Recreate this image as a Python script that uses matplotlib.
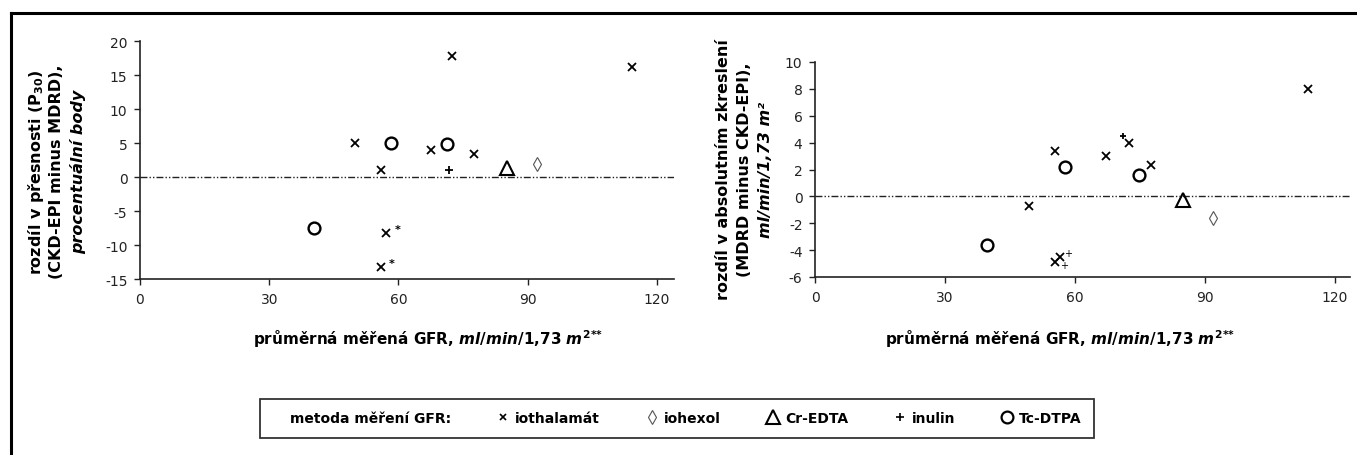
import matplotlib
matplotlib.use("Agg")
import matplotlib.pyplot as plt
from matplotlib.lines import Line2D

plt.rcParams['font.family'] = ['DejaVu Sans']
plt.rcParams['axes.unicode_minus'] = False
plt.rcParams['mathtext.fontset'] = 'custom'
plt.rcParams['mathtext.rm'] = 'DejaVu Sans:bold'
plt.rcParams['mathtext.it'] = 'DejaVu Sans:italic:bold'
plt.rcParams['mathtext.bf'] = 'DejaVu Sans:bold'

# --- data: left panel, difference in P30 (CKD-EPI minus MDRD) ---
iothal_x_left = [50.0, 56.0, 67.6, 72.5, 77.5, 114.3, 57.2, 55.9]
iothal_y_left = [5.0, 1.0, 3.9, 17.8, 3.4, 16.2, -8.2, -13.2]
iohexol_x_left = [92.2]
iohexol_y_left = [1.9]
credta_x_left = [85.2]
credta_y_left = [1.3]
inulin_x_left = [71.7]
inulin_y_left = [1.0]
tcdtpa_x_left = [58.2, 71.2, 40.5]
tcdtpa_y_left = [5.0, 4.9, -7.5]
note_idx_left = [6, 7]          # iothalamate points flagged with *

# --- data: right panel, difference in absolute bias (MDRD minus CKD-EPI) ---
iothal_x_right = [55.5, 67.2, 72.5, 77.6, 113.9, 49.3, 55.5, 56.5]
iothal_y_right = [3.4, 3.0, 4.0, 2.3, 8.0, -0.7, -4.9, -4.5]
iohexol_x_right = [91.9]
iohexol_y_right = [-1.6]
credta_x_right = [84.9]
credta_y_right = [-0.3]
inulin_x_right = [71.2]
inulin_y_right = [4.5]
tcdtpa_x_right = [57.8, 74.8, 39.8]
tcdtpa_y_right = [2.2, 1.6, -3.6]
note_idx_right = [7, 6]         # iothalamate points flagged with +

x_ticks = [0, 30, 60, 90, 120]
y_ticks_left = [-15, -10, -5, 0, 5, 10, 15, 20]
y_ticks_right = [-6, -4, -2, 0, 2, 4, 6, 8, 10]

method_labels = ["iothalamát", "iohexol", "Cr-EDTA", "inulin", "Tc-DTPA"]

W, H = 1357, 456
fig = plt.figure(figsize=(W / 100, H / 100), dpi=100)

ZERO_STYLE = dict(color='#222222', lw=1.0, linestyle=(0, (5, 1.5, 1, 1.5, 1, 1.5)))


def style_axes(ax, xmax, ylim, yticks):
    ax.set_xlim(0, xmax)
    ax.set_ylim(*ylim)
    ax.set_xticks(x_ticks)
    ax.set_yticks(yticks)
    for side in ('top', 'right'):
        ax.spines[side].set_visible(False)
    for side in ('left', 'bottom'):
        ax.spines[side].set_linewidth(1.2)
        ax.spines[side].set_color('#222222')
    ax.tick_params(axis='both', direction='out', length=4, width=1.0,
                   labelsize=10, color='#222222', labelcolor='#222222', pad=5)
    ax.axhline(0, **ZERO_STYLE, zorder=1)


def draw_points(ax, ix, iy, hx, hy, cx, cy, nx_, ny_, tx, ty, inulin_ms):
    ax.plot(ix, iy, 'x', color='black', ms=5.5, mew=1.3, ls='none', zorder=3)
    ax.plot(hx, hy, 'd', mfc='none', mec='#555555', ms=7, mew=0.8, ls='none', zorder=3)
    ax.plot(cx, cy, '^', mfc='none', mec='black', ms=10.5, mew=1.5, ls='none', zorder=3)
    ax.plot(nx_, ny_, '+', color='black', ms=inulin_ms, mew=1.3, ls='none', zorder=3)
    ax.plot(tx, ty, 'o', mfc='none', mec='black', ms=8.5, mew=1.7, ls='none', zorder=3)


# left panel
ax1 = fig.add_axes([140 / W, 1 - 280 / H, 534 / W, 238 / H])
style_axes(ax1, 124, (-15, 20), y_ticks_left)
draw_points(ax1, iothal_x_left, iothal_y_left, iohexol_x_left, iohexol_y_left,
            credta_x_left, credta_y_left, inulin_x_left, inulin_y_left,
            tcdtpa_x_left, tcdtpa_y_left, 6)
for i in note_idx_left:
    ax1.annotate('*', (iothal_x_left[i], iothal_y_left[i]), xytext=(8, 3),
                 textcoords='offset points', fontsize=8, fontweight='bold',
                 ha='center', va='center')

# right panel
ax2 = fig.add_axes([815 / W, 1 - 278 / H, 535 / W, 215 / H])
style_axes(ax2, 123.5, (-6, 10), y_ticks_right)
draw_points(ax2, iothal_x_right, iothal_y_right, iohexol_x_right, iohexol_y_right,
            credta_x_right, credta_y_right, inulin_x_right, inulin_y_right,
            tcdtpa_x_right, tcdtpa_y_right, 4)
for i, dy in zip(note_idx_right, [3, -2]):
    ax2.annotate('+', (iothal_x_right[i], iothal_y_right[i]), xytext=(6, dy),
                 textcoords='offset points', fontsize=7,
                 ha='center', va='center')

# y labels (three lines, last one italic)
lab_kw = dict(rotation=90, ha='center', va='center', fontsize=11.5, fontweight='bold')
fig.text(36 / W, 1 - 172 / H, r'rozdíl v přesnosti (P$_{\mathrm{30}}$)', **lab_kw)
fig.text(57 / W, 1 - 172 / H, '(CKD-EPI minus MDRD),', **lab_kw)
fig.text(78 / W, 1 - 172 / H, 'procentuální body', style='italic', **lab_kw)

fig.text(723 / W, 1 - 170 / H, 'rozdíl v absolutním zkreslení', **lab_kw)
fig.text(745 / W, 1 - 170 / H, '(MDRD minus CKD-EPI),', **lab_kw)
fig.text(766 / W, 1 - 170 / H, 'ml/min/1,73 m²', style='italic', **lab_kw)

# x labels
xlab = r'průměrná měřená GFR, $\mathit{ml/min/1{,}73\ m}^{\mathit{2}\text{**}}$'
fig.text(428 / W, 1 - 339 / H, xlab, ha='center', va='center', fontsize=11, fontweight='bold')
fig.text(1060 / W, 1 - 339 / H, xlab, ha='center', va='center', fontsize=11, fontweight='bold')

# legend
handles = [
    Line2D([], [], ls='none', marker=None),
    Line2D([], [], ls='none', marker='x', color='black', ms=5, mew=1.2),
    Line2D([], [], ls='none', marker='d', mfc='none', mec='#555555', ms=7, mew=0.8),
    Line2D([], [], ls='none', marker='^', mfc='none', mec='black', ms=10, mew=1.5),
    Line2D([], [], ls='none', marker='+', color='black', ms=6, mew=1.2),
    Line2D([], [], ls='none', marker='o', mfc='none', mec='black', ms=8.5, mew=1.6),
]
leg = fig.legend(handles, ['metoda měření GFR:'] + method_labels, ncol=6,
                 loc='center', bbox_to_anchor=(677 / W, 1 - 419 / H),
                 frameon=True, fancybox=False, edgecolor='black',
                 prop=dict(size=10, weight='bold'),
                 handlelength=0.9, handletextpad=0.4, columnspacing=3.3,
                 borderpad=0.9)
leg.get_frame().set_linewidth(1.3)

# frame lines (top and left only)
fig.add_artist(Line2D([11 / W, 1], [1 - 14 / H, 1 - 14 / H], color='black', lw=2.2))
fig.add_artist(Line2D([11 / W, 11 / W], [0, 1 - 14 / H], color='black', lw=2.2))

fig.savefig('out.png', dpi=100)
